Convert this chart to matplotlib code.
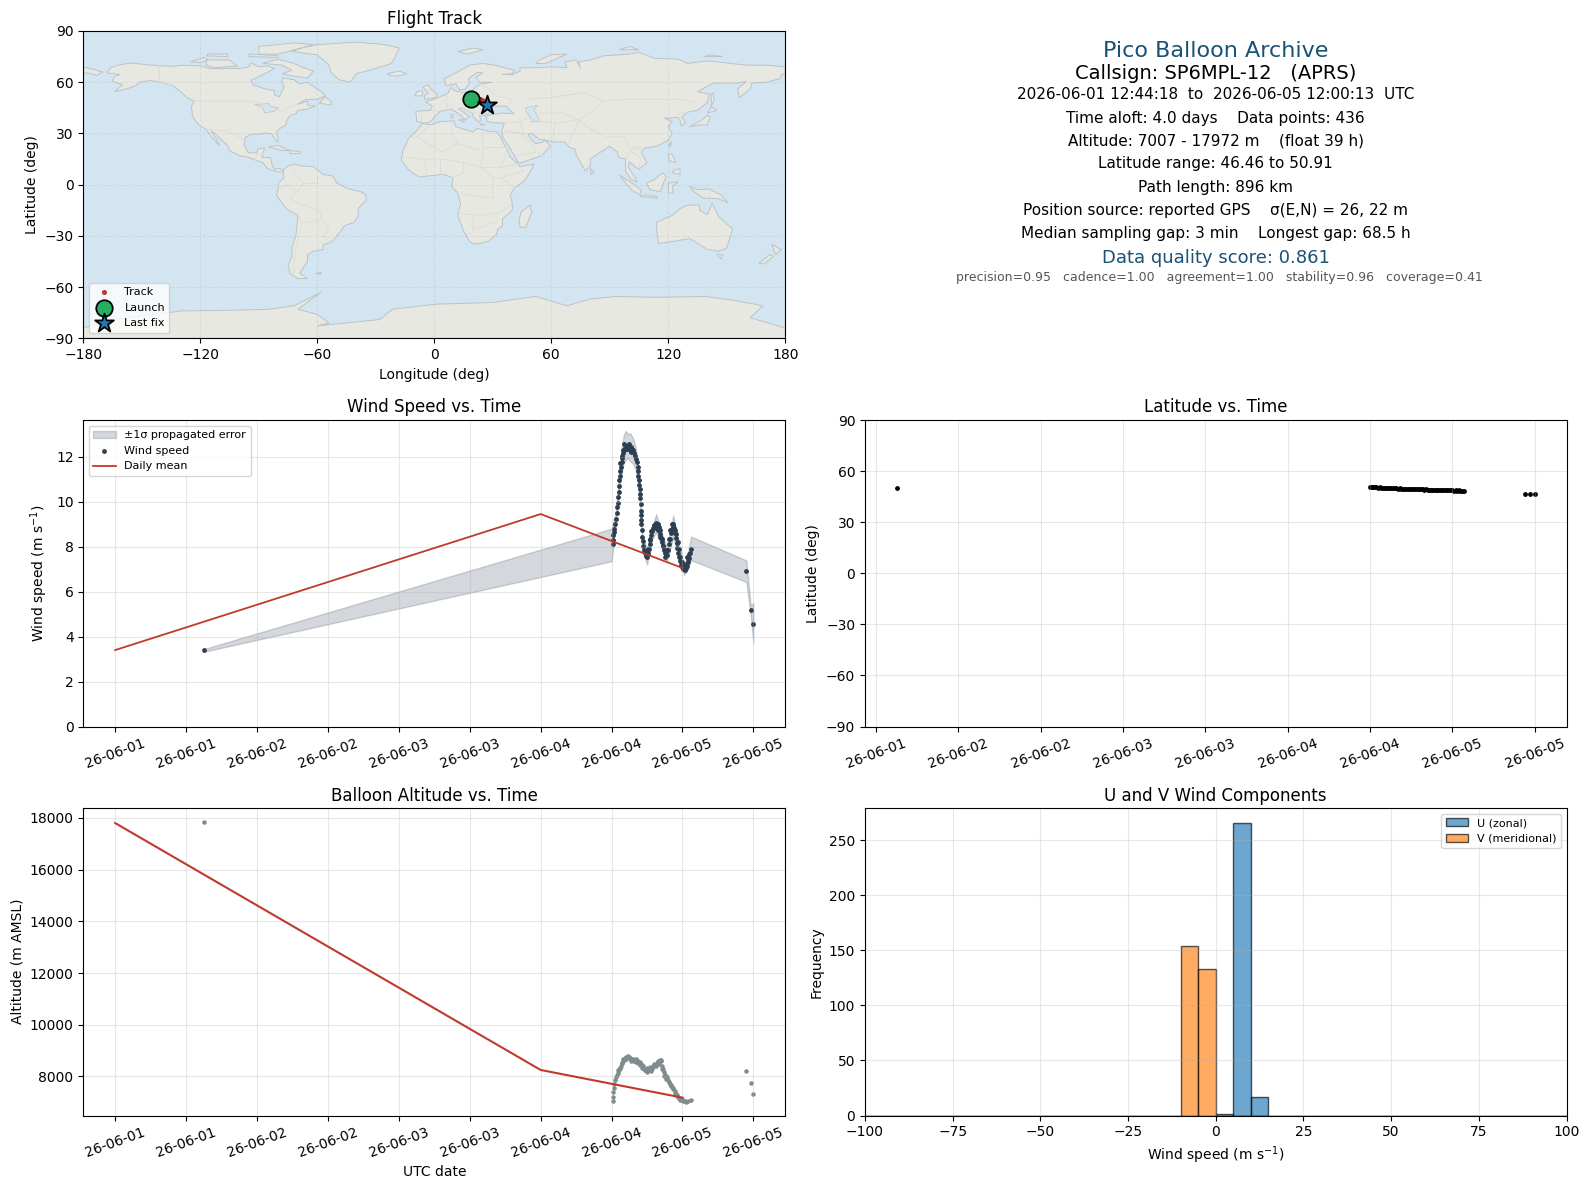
#!/usr/bin/env python3

import numpy as np
import pandas as pd
import matplotlib
matplotlib.use('Agg')
import matplotlib.pyplot as plt
import matplotlib.dates as mdates

# Times are days after 2026-06-01 00:00 =====================================
wind_t = [0.628, 3.507, 3.509, 3.512, 3.516, 3.520, 3.525, 3.531, 3.536, 3.540, 3.544, 3.547, 3.550, 3.551, 3.553,
          3.556, 3.561, 3.565, 3.570, 3.574, 3.581, 3.588, 3.595, 3.603, 3.612, 3.620, 3.628, 3.636, 3.643, 3.650,
          3.658, 3.665, 3.673, 3.677, 3.683, 3.686, 3.688, 3.691, 3.695, 3.698, 3.700, 3.703, 3.705, 3.707, 3.710,
          3.710, 3.711, 3.712, 3.714, 3.719, 3.724, 3.730, 3.737, 3.743, 3.750, 3.757, 3.762, 3.768, 3.774, 3.780,
          3.786, 3.795, 3.805, 3.815, 3.825, 3.832, 3.838, 3.844, 3.850, 3.856, 3.862, 3.868, 3.875, 3.883, 3.891,
          3.898, 3.905, 3.912, 3.918, 3.924, 3.933, 3.941, 3.946, 3.952, 3.958, 3.964, 3.970, 3.976, 3.983, 3.991,
          3.999, 4.007, 4.015, 4.023, 4.030, 4.036, 4.041, 4.048, 4.060, 4.450, 4.480, 4.500,
          3.562, 3.570, 3.580, 3.590, 3.600, 3.610, 3.620, 3.630, 3.640, 3.745, 3.755, 3.770, 3.780, 3.800, 3.812, 3.830,
          3.840, 3.855, 3.865, 3.880, 3.890, 3.905, 3.915, 3.925, 3.935, 3.945, 3.955, 3.965, 3.975, 3.985, 3.995, 4.005,
          4.015, 4.025, 4.035, 4.045, 4.055]
wind_v = [3.40, 8.10, 8.30, 8.50, 8.65, 8.80, 9.00, 9.25, 9.50, 9.75, 9.95, 10.20, 10.45, 10.70, 10.95,
          11.15, 11.35, 11.55, 11.75, 11.95, 12.15, 12.30, 12.40, 12.45, 12.48, 12.47, 12.45, 12.42, 12.35, 12.28,
          12.18, 12.05, 11.90, 11.75, 11.55, 11.35, 11.15, 10.95, 10.75, 10.55, 10.35, 10.15, 9.90, 9.60, 9.40,
          9.20, 9.00, 8.75, 8.45, 8.25, 8.05, 7.85, 7.70, 7.60, 7.55, 7.70, 7.90, 8.10, 8.30, 8.50,
          8.70, 8.85, 8.98, 9.05, 9.00, 8.88, 8.72, 8.55, 8.38, 8.20, 8.02, 7.85, 7.70, 7.62, 7.65,
          7.85, 8.10, 8.35, 8.60, 8.80, 8.92, 8.85, 8.60, 8.38, 8.15, 7.95, 7.72, 7.52, 7.35, 7.20,
          7.08, 7.00, 6.98, 7.05, 7.15, 7.30, 7.45, 7.68, 7.90, 6.90, 5.20, 4.58,
          11.70, 12.05, 12.30, 12.55, 12.35, 12.35, 12.58, 12.30, 12.20, 7.75, 7.90, 8.35, 8.70, 8.98, 8.85, 8.75,
          8.45, 8.35, 8.05, 7.55, 7.85, 8.35, 8.75, 9.00, 9.00, 8.75, 8.55, 8.20, 7.90, 7.55, 7.30, 7.15,
          7.15, 7.25, 7.55, 7.50, 7.70]

band_t = [0.628, 3.50, 3.53, 3.55, 3.57, 3.585, 3.60, 3.615, 3.63, 3.65, 3.67, 3.69, 3.71, 3.72, 3.75, 3.78,
          3.815, 3.85, 3.89, 3.935, 3.96, 4.01, 4.03, 4.06, 4.45, 4.48, 4.50]
band_hi = [3.45, 8.80, 9.55, 10.90, 12.30, 12.95, 13.15, 13.00, 13.05, 12.85, 12.40, 11.30, 9.30, 8.40, 7.90, 8.75,
           9.45, 8.70, 7.95, 9.40, 8.50, 7.25, 7.40, 8.45, 7.39, 5.40, 5.47]
band_lo = [3.33, 7.35, 8.95, 10.30, 11.20, 11.75, 11.85, 11.95, 11.80, 11.70, 11.40, 10.70, 8.80, 7.80, 7.20, 8.25,
           8.65, 8.05, 7.30, 8.45, 7.80, 6.75, 6.90, 7.40, 6.43, 5.00, 3.70]

daily_t = [0.0, 3.0, 4.0]
daily_wind = [3.40, 9.45, 7.05]
daily_alt = [17800, 8250, 7180]

alt_t = [0.628, 3.507, 3.510, 3.513, 3.516, 3.520, 3.526, 3.531, 3.538, 3.545, 3.552, 3.559, 3.565, 3.572, 3.578,
         3.584, 3.592, 3.600, 3.608, 3.616, 3.625, 3.633, 3.641, 3.649, 3.657, 3.665, 3.673, 3.681, 3.689, 3.697,
         3.705, 3.713, 3.721, 3.729, 3.737, 3.745, 3.753, 3.761, 3.769, 3.777, 3.785, 3.793, 3.801, 3.809, 3.817,
         3.825, 3.833, 3.841, 3.849, 3.855, 3.861, 3.868, 3.875, 3.882, 3.890, 3.898, 3.906, 3.913, 3.921, 3.929,
         3.936, 3.944, 3.951, 3.959, 3.967, 3.975, 3.985, 3.995, 4.005, 4.015, 4.028, 4.040, 4.060, 4.450, 4.480, 4.500,
         3.548, 3.562, 3.575, 3.590, 3.605, 3.620, 3.637, 3.653, 3.669, 3.685, 3.701, 3.717, 3.733, 3.749, 3.765, 3.781,
         3.797, 3.813, 3.829, 3.845, 3.858, 3.872, 3.886, 3.902, 3.917, 3.933, 3.948, 3.963, 3.980, 4.000]
alt_m = [17843, 7060, 7220, 7380, 7540, 7700, 7850, 7970, 8060, 8140, 8230, 8330, 8420, 8510, 8610,
         8690, 8730, 8770, 8760, 8780, 8760, 8700, 8690, 8620, 8590, 8640, 8660, 8620, 8570, 8560,
         8500, 8450, 8390, 8300, 8230, 8260, 8340, 8290, 8360, 8240, 8280, 8390, 8480, 8450, 8530,
         8560, 8500, 8630, 8650, 8420, 8300, 8170, 8060, 8000, 7960, 7870, 7800, 7720, 7650, 7590,
         7510, 7430, 7340, 7290, 7210, 7170, 7140, 7090, 7060, 7040, 7030, 7050, 7070, 8219, 7755, 7316,
         8250, 8310, 8520, 8650, 8690, 8700, 8610, 8680, 8570, 8520, 8440, 8340, 8240, 8190, 8270, 8210,
         8410, 8420, 8580, 8580, 8300, 8030, 7890, 7790, 7620, 7560, 7370, 7240, 7100, 7120]

lat_t = [0.628, 3.50, 3.51, 3.52, 3.53, 3.54, 3.55, 3.56, 3.57, 3.58, 3.59, 3.60, 3.61, 3.62, 3.63, 3.64, 3.65, 3.66,
         3.67, 3.68, 3.69, 3.70, 3.71, 3.72, 3.73, 3.74, 3.75, 3.76, 3.77, 3.78, 3.79, 3.80, 3.81, 3.82, 3.83, 3.84,
         3.85, 3.86, 3.87, 3.88, 3.89, 3.90, 3.91, 3.92, 3.93, 3.94, 3.95, 3.96, 3.97, 3.98, 3.99, 4.00, 4.01, 4.02,
         4.03, 4.04, 4.05, 4.06, 4.07, 4.44, 4.47, 4.50]
lat_deg = [50.3, 50.91, 50.85, 50.7, 50.5, 50.6, 50.45, 50.5, 50.3, 50.45, 50.3, 50.25, 50.3, 50.1, 50.2, 50.05, 50.0, 50.05,
           49.9, 50.0, 49.8, 49.9, 49.75, 49.8, 49.7, 49.7, 49.55, 49.65, 49.5, 49.6, 49.45, 49.5, 49.4, 49.45, 49.3, 49.35,
           49.2, 49.3, 49.1, 49.2, 49.0, 49.1, 48.95, 49.0, 48.85, 48.95, 48.8, 48.9, 48.75, 48.85, 48.75, 48.8, 48.7, 48.8,
           48.65, 48.75, 48.65, 48.7, 48.6, 46.5, 46.5, 46.46]

track_lon = [19.0, 20.5, 22.0, 23.5, 24.5, 25.0, 25.5, 26.8]
track_lat = [50.2, 50.6, 50.3, 49.9, 49.4, 48.9, 47.5, 46.6]
launch_lon, launch_lat = 19.0, 50.2
last_lon, last_lat = 26.8, 46.6

hist_bins = list(range(-100, 105, 5))
u_counts = [0] * 20 + [1, 266, 17] + [0] * 17
v_counts = [0] * 18 + [154, 133] + [0] * 20

info_lines = ["Pico Balloon Archive",
              "Callsign: SP6MPL-12   (APRS)",
              "2026-06-01 12:44:18  to  2026-06-05 12:00:13  UTC",
              "Time aloft: 4.0 days    Data points: 436",
              "Altitude: 7007 - 17972 m    (float 39 h)",
              "Latitude range: 46.46 to 50.91",
              "Path length: 896 km",
              "Position source: reported GPS    σ(E,N) = 26, 22 m",
              "Median sampling gap: 3 min    Longest gap: 68.5 h",
              "Data quality score: 0.861",
              "precision=0.95   cadence=1.00   agreement=1.00   stability=0.96   coverage=0.41"]

# Coastlines (lon, lat) =====================================================
north_america = [(-168, 65.5), (-166, 68.5), (-162, 70), (-156, 71.3), (-148, 70.3), (-141, 69.7), (-135, 69.3), (-128, 70),
                 (-120, 69.5), (-115, 68), (-108, 68), (-100, 68), (-95, 69), (-94, 71.5), (-90, 69), (-85, 69.5), (-82, 68),
                 (-87, 65), (-94, 61), (-93, 58.5), (-88, 56.5), (-82, 55), (-82, 52.5), (-79.5, 51.5), (-78.5, 54), (-77, 57),
                 (-78, 60), (-78, 62.5), (-72, 61.5), (-69, 59), (-65, 60), (-62, 57.5), (-58, 54.5), (-56, 52), (-60, 50),
                 (-66, 50), (-70, 47), (-65, 49), (-65, 46.5), (-61, 46), (-66, 44), (-70, 43.5), (-71, 41.5), (-74, 40.5),
                 (-76, 37), (-76, 35), (-79, 33), (-81, 31), (-80, 27), (-80.5, 25), (-82, 27), (-83, 29.5), (-86, 30.3),
                 (-90, 29.5), (-94, 29.5), (-97, 27.5), (-97.5, 23), (-95.5, 18.8), (-91, 18.5), (-90.5, 21), (-87, 21.5),
                 (-88, 18), (-88.5, 16), (-84, 15.8), (-83.3, 12), (-82, 9), (-79.5, 9.5), (-77.5, 8.5), (-78, 7.5), (-80, 7.5),
                 (-83, 8.3), (-86, 10), (-88, 13), (-92, 14.5), (-95, 16), (-100, 17), (-105, 20), (-106, 23), (-109, 26),
                 (-112.5, 30), (-114.5, 31.5), (-112, 27), (-110, 23), (-112, 25), (-115, 29), (-117, 32.5), (-120.5, 34.5),
                 (-124, 40), (-124.5, 46), (-123, 49), (-127, 51), (-130, 54.5), (-134, 58), (-140, 60), (-146, 61), (-151, 60),
                 (-153, 58), (-158, 56), (-164, 54.5), (-160, 58.5), (-165, 60.5), (-164, 63.5), (-161, 64.5)]
south_america = [(-77.5, 8.5), (-75, 11), (-72, 12), (-68, 11), (-62, 10.5), (-57, 6), (-52, 5), (-50, 1), (-44, -2.5), (-38, -4),
                 (-35, -6), (-35, -9), (-39, -14), (-39, -18), (-41, -22), (-46, -24), (-48.5, -28), (-53, -34), (-57, -35),
                 (-57, -38), (-62, -39), (-65, -41), (-65, -45), (-68, -50), (-69, -52), (-65, -55), (-70, -55), (-74, -52),
                 (-75, -47), (-73, -42), (-73, -37), (-71, -30), (-70, -18), (-76, -14), (-81, -6), (-80, -2), (-80, 1), (-77, 4)]
africa = [(-6, 35.8), (-2, 35), (3, 37), (10, 37.3), (11, 34), (15, 32.5), (20, 31), (22, 33), (29, 31), (32, 31), (34, 28),
          (35.5, 24), (37, 21), (39, 16), (43, 12), (44, 10.5), (51, 12), (50, 9), (46, 2), (41, -2), (39, -6), (40, -11),
          (40, -15), (35, -20), (35, -24), (32.5, -26), (32, -29), (28, -33), (25, -34), (20, -34.8), (18, -33), (15, -27),
          (12, -18), (13.5, -11), (12, -5), (9, -1), (9.5, 4), (5, 6), (-4, 5), (-8, 4.5), (-13, 8.5), (-17, 14.5), (-16, 20),
          (-13, 27.5), (-9.5, 31)]
eurasia = [(-9, 37), (-9.5, 43), (-2, 43.5), (-1, 46), (-4.5, 48.5), (2, 51), (7, 53.5), (8.5, 57), (10.5, 55), (14, 54), (19, 54.5),
           (21, 57), (24, 59), (29.5, 60), (23, 60), (21.5, 63), (25, 65.5), (22, 65.8), (17.5, 62), (18, 59.5), (16, 56), (13, 55.5),
           (11, 59), (6, 58), (5, 62), (12, 66), (18, 70), (25, 71), (31, 70), (41, 67), (40, 65), (35, 64.5), (40, 64.5), (44, 66.5),
           (44, 68.5), (54, 68.5), (60, 69), (68, 68.5), (67, 72), (73, 73), (75, 68), (74, 72), (80, 73), (87, 75.5), (100, 76.5),
           (105, 77.5), (113, 74), (125, 73.5), (130, 71), (140, 72.5), (152, 71), (160, 70), (170, 70), (180, 69), (180, 65),
           (178, 64.5), (177, 62), (170, 60), (163, 59.5), (162, 56), (156.5, 51), (155.5, 56), (160, 60.5), (155, 59.5), (143, 59.5),
           (135, 54.5), (141, 53), (140, 48), (135, 43.5), (130, 42.5), (127, 39.5), (129, 36), (126.5, 34.5), (126, 37.5), (125, 39.5),
           (121, 39), (118, 39), (122, 37), (120, 34), (122, 30), (120, 26), (114, 22.5), (108, 21.5), (106, 19), (109, 13), (105, 9),
           (103, 10.5), (100, 13.5), (99.5, 10), (103, 4), (104, 1.5), (101, 3), (98, 8), (98, 15), (94.5, 16), (94, 19), (90, 22.5),
           (86.5, 20), (80, 15), (80, 11), (77.5, 8), (73, 17), (72, 21), (69, 22), (67, 25), (61, 25), (57, 26), (54, 26.5), (50, 30),
           (48, 29.5), (50, 26), (52, 24), (56, 25), (56.5, 26.3), (59.5, 22.5), (55, 17), (45, 13), (43, 13), (39, 21), (35, 28),
           (34.5, 31.5), (36, 36), (30, 36.3), (27, 37), (26.5, 40), (29, 41), (35, 42), (41, 41.5), (38, 44.5), (37, 46), (33.5, 46),
           (30.5, 46), (28, 42), (26, 40.8), (23, 40.5), (24, 38), (23, 36.5), (20, 39.5), (19.5, 42), (14, 45), (12.5, 44.5), (18, 40),
           (16, 38), (12, 42), (8.5, 44.3), (3, 43), (0, 39.5), (-2, 36.8), (-5.5, 36)]
antarctica = [(-180, -90), (-180, -84), (-165, -79), (-150, -77), (-130, -74), (-100, -73.5), (-85, -73), (-72, -71), (-58, -63),
              (-70, -73), (-60, -76), (-54, -81), (-60, -82.7), (-45, -81), (-28, -79), (-21.5, -73), (1, -70), (30, -69), (52, -65.5),
              (68, -71), (80, -67), (93, -65.5), (115, -66), (139, -65.5), (155, -68), (168.5, -71), (162, -78), (177, -83), (180, -84),
              (180, -90)]
islands = [
    [(-180, 69), (-175, 67.5), (-170, 66), (-173, 64), (-178, 65.5), (-180, 65)],
    [(-73, 78), (-68, 80), (-60, 82), (-40, 83.5), (-25, 82), (-18, 80), (-20, 75), (-22, 71), (-30, 68), (-40, 65), (-43, 60), (-49, 61.5),
     (-53, 66), (-54, 70), (-60, 76)],
    [(-80, 73.5), (-72, 71), (-67, 68.5), (-62, 66.5), (-65, 62.5), (-72, 63.5), (-78, 65), (-73, 67), (-78, 70), (-88, 71)],
    [(-117, 73), (-105, 73), (-101, 69.5), (-113, 68.5), (-117, 70)],
    [(-125, 72), (-118, 74.5), (-116, 73), (-120, 71.5)],
    [(-90, 76.5), (-80, 76.5), (-62, 82), (-72, 83), (-90, 81)],
    [(-95, 75), (-80, 74.5), (-80, 75.5), (-95, 76.5)],
    [(-117, 75.5), (-106, 75), (-106, 76.5), (-116, 76.5)],
    [(-59, 47.7), (-53, 46.7), (-53, 49), (-56, 51.5)],
    [(-85, 22), (-80, 23), (-74, 20), (-78, 20)],
    [(-74, 19.8), (-69, 19.5), (-68.5, 18.5), (-74, 18)],
    [(-24, 65), (-18, 66.5), (-14, 65), (-19, 63.5), (-23, 64)],
    [(-5, 50), (1, 51), (1.5, 53), (-2, 56), (-3, 58.5), (-6, 57), (-3, 54), (-5, 52)],
    [(-10, 52), (-6, 52), (-6, 55), (-9, 54.5)],
    [(49, -12), (50, -16), (47, -25), (44, -25), (43.5, -21), (44.5, -16)],
    [(131, 34), (136, 35), (140, 35), (141.5, 40), (140, 40.5), (136, 37)],
    [(140, 42), (145, 43.5), (142, 45.5)],
    [(142, 46), (143.5, 49), (143, 54), (142, 53)],
    [(120, 23), (121.5, 25), (121, 22)],
    [(120, 18), (122, 18), (124, 13), (120.5, 14)],
    [(122, 7), (126, 6), (126, 9.5), (123, 8.5)],
    [(95, 5.5), (100, 2), (106, -3), (105.5, -6), (101, -3)],
    [(105.5, -7), (114.5, -8), (114, -7), (107, -6)],
    [(109, 1), (113, 3), (117, 7), (119, 5), (117.5, 1), (116, -4), (110.5, -3)],
    [(120, 1), (125, 1.5), (122, -1), (122.5, -5), (120, -5)],
    [(131, -1), (135, -3), (141, -2.5), (147, -6), (150.5, -10.5), (145, -8), (138, -8), (133, -4)],
    [(114, -22), (122, -18), (126, -14), (130, -12), (136, -12), (136, -15), (140, -17.5), (142.5, -11), (146, -19), (153, -26), (150, -37),
     (146, -39), (140, -38), (136, -35), (131, -31.5), (124, -33), (115, -34.5), (114, -26)],
    [(145, -41), (148, -41), (147, -43.5)],
    [(173, -35), (178, -38), (175, -41), (174, -38)],
    [(172, -41), (174, -42), (169, -46.5), (166.5, -46)],
    [(80, 9.5), (82, 7), (80.5, 6)],
    [(52, 71), (57, 71), (68, 76.5), (60, 76), (54, 73)],
    [(12, 78), (20, 80), (25, 79), (17, 76.5)],
    [(95, 79), (105, 79), (100, 81)],
    [(138, 75), (148, 75), (142, 76)],
    [(-61, -52), (-58, -51.5), (-58, -52.3)],
    [(12.5, 38), (15.5, 38), (15, 36.7)],
    [(8.5, 41), (9.7, 41), (9.5, 39), (8.5, 39)],
    [(23.5, 35.5), (26, 35.2), (24, 35)],
]
inland_water = [
    [(47, 45), (53, 46.5), (51, 44), (53, 40), (54, 37), (50, 37), (49, 40), (47, 43)],
    [(-92, 47), (-85, 47.5), (-84, 46), (-80, 45), (-82, 43), (-87, 42), (-88, 45)],
]
borders = [
    [(-141, 69.7), (-141, 60), (-134, 58)], [(-123, 49), (-95, 49), (-89, 48), (-83, 45), (-79, 43), (-75, 45), (-70, 47)],
    [(-117, 32.5), (-106, 31.5), (-97, 26)], [(-92, 14.5), (-91, 18), (-88, 18)], [(-72, 12), (-72, 7), (-67, 1), (-70, -4), (-74, -8), (-69, -11), (-58, -16),
                                                                                    (-58, -20), (-54, -26), (-57, -30), (-53, -34)],
    [(-70, -18), (-68, -23), (-70, -33), (-72, -45), (-72, -52)], [(-80, -3), (-75, 0), (-70, -4)], [(-68, -22), (-62, -22), (-58, -20)],
    [(-60, 5), (-60, 1), (-67, 1)], [(-2, 35), (-9, 28), (-13, 27.5)], [(9, 37), (9, 30), (12, 24), (4, 19), (-5, 25), (-9, 28)],
    [(25, 31.5), (25, 20), (24, 10), (34, 10), (36, 15), (37, 21)], [(25, 22), (37, 22)], [(12, 24), (15, 23), (24, 20)],
    [(-16, 16), (-5, 15), (4, 15), (15, 13), (24, 10)], [(9, 4), (15, 7), (15, 13)], [(24, 10), (30, 4), (34, 4), (41, -2)], [(12, -5), (30, -8), (30, 4)],
    [(13, -17), (24, -18), (34, -16), (40, -11)], [(20, -18), (20, -28), (17, -29)], [(20, -26), (32, -22)], [(-4, 5), (-5, 15)], [(3, 6), (3, 15)],
    [(34, 10), (43, 12)], [(34, 4), (46, 8)], [(28, 42), (20, 42), (14, 45)], [(7, 53.5), (6, 49), (7, 44)], [(14, 54), (15, 49), (24, 49), (30, 46)],
    [(-2, 43.5), (3, 43)], [(-7, 37), (-7, 42)], [(24, 59), (28, 56), (32, 52), (40, 50), (38, 47)], [(47, 50), (60, 51), (77, 54), (87, 49), (98, 50),
                                                                                                      (115, 50), (127, 50), (135, 48)],
    [(87, 49), (80, 42), (74, 38), (62, 36), (54, 37)], [(53, 42), (66, 42), (74, 38)], [(74, 38), (78, 34), (88, 28), (97, 28), (100, 22), (106, 22)],
    [(62, 36), (61, 30), (62, 25)], [(74, 37), (71, 30), (69, 24)], [(36, 36), (44, 37), (46, 30), (48, 29.5)], [(46, 30), (36, 31)], [(44, 37), (48, 39), (54, 37)],
    [(36, 32), (46, 29), (52, 20), (55, 17)], [(43, 17), (52, 19)], [(98, 15), (100, 20), (106, 22)], [(100, 20), (103, 18), (106, 15), (105, 10)],
    [(125, 41), (130, 42.5)], [(141, -2.5), (141, -9)], [(77, 54), (60, 51)],
]


def place_axes(fig, left, top, right, bottom):
    # pixel box -> figure fractions
    W, H = fig.get_size_inches() * fig.dpi
    return fig.add_axes([left / W, 1 - bottom / H, (right - left) / W, (bottom - top) / H])


def to_dates(days):
    return pd.Timestamp('2026-06-01') + pd.to_timedelta(np.asarray(days), unit='D')


def date_axis(ax):
    ax.xaxis.set_major_locator(mdates.HourLocator(byhour=[0, 12]))
    ax.xaxis.set_major_formatter(mdates.DateFormatter('%y-%m-%d'))
    ax.tick_params(axis='x', rotation=20)
    ax.grid(True, alpha=0.3)


fig = plt.figure(figsize=(15.89, 11.89), dpi=100)

x_left = (83.3, 785.3)
x_right = (865, 1566.5)
y_rows = [(31, 338.3), (420.3, 726.5), (808, 1115.5)]

# Flight track
ax = place_axes(fig, x_left[0], y_rows[0][0], x_left[1], y_rows[0][1])
ax.set_facecolor('#d3e5f1')
land_kw = dict(facecolor='#e8e8e3', edgecolor='#bcc3c6', linewidth=0.7, zorder=0.5)
for poly in [north_america, south_america, africa, eurasia, antarctica] + islands:
    ax.fill(*zip(*poly), **land_kw)
for poly in inland_water:
    ax.fill(*zip(*poly), facecolor='#d3e5f1', edgecolor='#bcc3c6', linewidth=0.5, zorder=0.6)
for line in borders:
    ax.plot(*zip(*line), color='#dcdcd7', lw=0.6, zorder=0.7)
ax.scatter(track_lon, track_lat, s=7, color='#c0392b', label='Track', zorder=3)
ax.scatter(launch_lon, launch_lat, s=140, color='#27ae60', edgecolor='k', linewidth=1.3, label='Launch', zorder=4)
ax.scatter(last_lon, last_lat, s=200, marker='*', color='#1f77b4', edgecolor='k', linewidth=1.3, label='Last fix', zorder=5)
ax.set_xlim(-180, 180)
ax.set_ylim(-90, 90)
ax.set_xticks(np.arange(-180, 181, 60))
ax.set_yticks(np.arange(-90, 91, 30))
ax.grid(True, ls='--', lw=0.7, alpha=0.25)
ax.set_xlabel('Longitude (deg)')
ax.set_ylabel('Latitude (deg)')
ax.set_title('Flight Track', fontsize=12, pad=5)
ax.legend(loc='lower left', fontsize=8)

# Text panel
ax = place_axes(fig, x_right[0], y_rows[0][0], x_right[1], y_rows[0][1])
ax.axis('off')
line_px = [20, 42, 63, 86, 108, 131, 154, 177, 200, 224, 243]
line_size = [16, 14, 11, 11, 11, 11, 11, 11, 11, 13, 9]
line_color = ['#1a5276', 'k', 'k', 'k', 'k', 'k', 'k', 'k', 'k', '#1a5276', '#555555']
line_x = [0.5] * 10 + [0.5058]
for txt, lx, py, fs, col in zip(info_lines, line_x, line_px, line_size, line_color):
    ax.text(lx, 1 - py * 1.0134 / 307, txt, ha='center', va='center', fontsize=fs, color=col, transform=ax.transAxes)

# Wind speed
ax = place_axes(fig, x_left[0], y_rows[1][0], x_left[1], y_rows[1][1])
ax.fill_between(to_dates(band_t), band_lo, band_hi, color='#2c3e50', alpha=0.2, label='±1σ propagated error')
ax.scatter(to_dates(wind_t), wind_v, s=6, color='#2c3e50', label='Wind speed')
ax.plot(to_dates(daily_t), daily_wind, color='#c0392b', lw=1.3, label='Daily mean')
ax.set_ylim(0, 13.62)
date_axis(ax)
ax.set_ylabel('Wind speed (m s$^{-1}$)')
ax.set_title('Wind Speed vs. Time', fontsize=12)
ax.legend(loc='upper left', fontsize=8)

# Latitude
ax = place_axes(fig, x_right[0], y_rows[1][0], x_right[1], y_rows[1][1])
ax.scatter(to_dates(lat_t), lat_deg, s=6, color='k')
ax.set_ylim(-90, 90)
ax.set_yticks(np.arange(-90, 91, 30))
date_axis(ax)
ax.set_ylabel('Latitude (deg)')
ax.set_title('Latitude vs. Time', fontsize=12)

# Altitude
ax = place_axes(fig, x_left[0], y_rows[2][0], x_left[1], y_rows[2][1])
ax.scatter(to_dates(alt_t), alt_m, s=5, color='#7f8c8d')
ax.plot(to_dates(daily_t), daily_alt, color='#c0392b', lw=1.5)
date_axis(ax)
ax.set_xlabel('UTC date')
ax.set_ylabel('Altitude (m AMSL)')
ax.set_title('Balloon Altitude vs. Time', fontsize=12, pad=5)

# U and V histogram
ax = place_axes(fig, x_right[0], y_rows[2][0], x_right[1], y_rows[2][1])
ax.hist(hist_bins[:-1], bins=hist_bins, weights=u_counts, alpha=0.65, edgecolor='k', label='U (zonal)')
ax.hist(hist_bins[:-1], bins=hist_bins, weights=v_counts, alpha=0.65, edgecolor='k', label='V (meridional)')
ax.set_xlim(-100, 100)
ax.grid(True, alpha=0.3)
ax.set_xlabel('Wind speed (m s$^{-1}$)')
ax.set_ylabel('Frequency')
ax.set_title('U and V Wind Components', fontsize=12, pad=5)
ax.legend(loc='upper right', fontsize=8)

fig.savefig('out.png', dpi=100)
